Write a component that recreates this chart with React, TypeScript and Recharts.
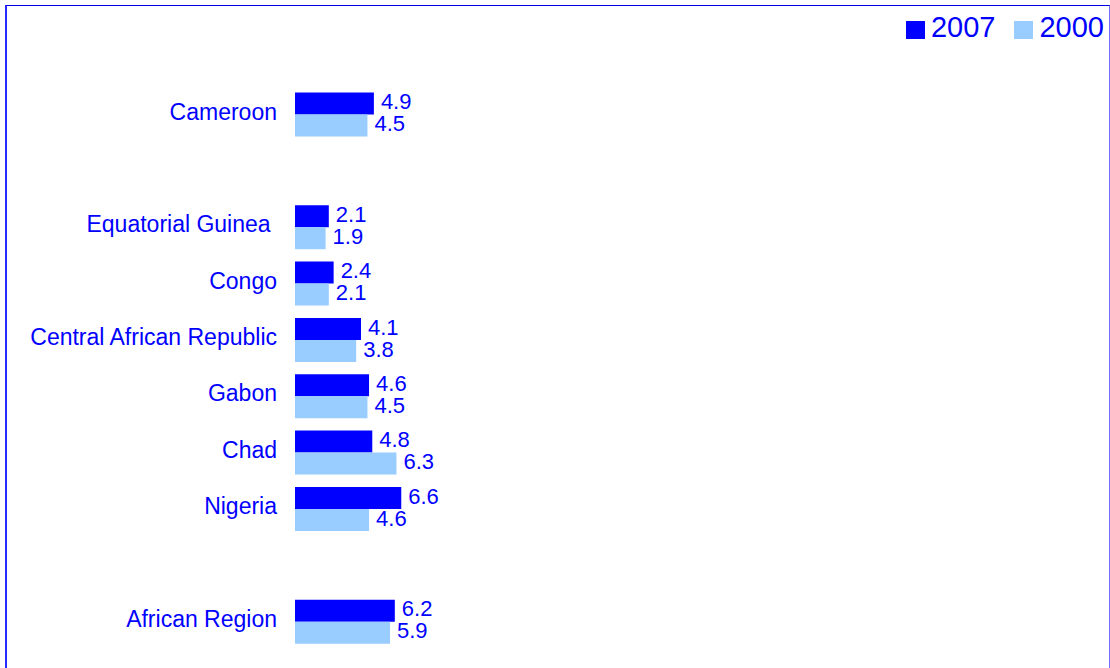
import { BarChart, Bar, XAxis, YAxis, Legend, LabelList } from "recharts";

const countries = [
  "Cameroon",
  " ",
  "Equatorial Guinea ",
  "Congo",
  "Central African Republic",
  "Gabon",
  "Chad",
  "Nigeria",
  "  ",
  "African Region",
];
const values2007 = [4.9, null, 2.1, 2.4, 4.1, 4.6, 4.8, 6.6, null, 6.2];
const values2000 = [4.5, null, 1.9, 2.1, 3.8, 4.5, 6.3, 4.6, null, 5.9];
const seriesOrder = ["2007", "2000"];

const data = countries.map((name, i) => ({
  name,
  y2007: values2007[i],
  y2000: values2000[i],
}));

const FONT = "'Liberation Sans', Arial, sans-serif";
const BLUE = "#0000ff";
const LIGHT = "#99ccff";

const fmt = (v: any) => (v == null ? "" : Number(v).toFixed(1));

const CountryTick = ({ x, y, payload }: any) => (
  <text
    x={x}
    y={y}
    dy={5}
    textAnchor="end"
    fill={BLUE}
    fontSize={23}
    fontFamily={FONT}
    style={{ whiteSpace: "pre" }}
  >
    {payload.value}
  </text>
);

const LegendBox = ({ payload }: any) => {
  const items = [...(payload || [])].sort(
    (a: any, b: any) => seriesOrder.indexOf(a.value) - seriesOrder.indexOf(b.value)
  );
  return (
    <div style={{ display: "flex", alignItems: "center", fontFamily: FONT }}>
      {items.map((p: any, i: number) => (
        <div
          key={p.value}
          style={{ display: "flex", alignItems: "center", marginLeft: i ? 19 : 0 }}
        >
          <span
            style={{ width: 19, height: 18, background: p.color, marginRight: 6 }}
          />
          <span
            style={{
              fontSize: 29,
              lineHeight: "29px",
              color: BLUE,
              position: "relative",
              top: -2,
            }}
          >
            {p.value}
          </span>
        </div>
      ))}
    </div>
  );
};

export default function App() {
  return (
    <div
      style={{
        position: "absolute",
        left: 0,
        top: 0,
        width: 1110,
        height: 668,
        overflow: "hidden",
        background: "#fff",
      }}
    >
      <div
        style={{
          position: "absolute",
          left: 5,
          top: 5,
          width: 1105,
          height: 720,
          boxSizing: "border-box",
          borderLeft: "2px solid #2a2aff",
          borderTop: "1px solid #0000e0",
          borderRight: "1px solid #7070ff",
        }}
      />
      <div style={{ position: "absolute", left: 0, top: 0 }}>
        <BarChart
          width={1110}
          height={668}
          data={data}
          layout="vertical"
          margin={{ top: 86.5, right: 10, bottom: 18, left: 0 }}
          barGap={0}
        >
          <XAxis type="number" domain={[0, 50]} hide />
          <YAxis
            type="category"
            dataKey="name"
            width={295}
            axisLine={false}
            tickLine={false}
            tickSize={0}
            tickMargin={18}
            interval={0}
            tick={<CountryTick />}
          />
          <Legend
            verticalAlign="middle"
            align="center"
            wrapperStyle={{ top: 15, right: 6, left: "auto", width: "auto" }}
            content={<LegendBox />}
          />
          <Bar
            dataKey="y2007"
            name="2007"
            fill={BLUE}
            barSize={22}
            isAnimationActive={false}
          >
            <LabelList
              dataKey="y2007"
              position="right"
              offset={7}
              dy={-2}
              fill={BLUE}
              fontSize={22}
              fontFamily={FONT}
              formatter={fmt}
            />
          </Bar>
          <Bar
            dataKey="y2000"
            name="2000"
            fill={LIGHT}
            barSize={22}
            isAnimationActive={false}
          >
            <LabelList
              dataKey="y2000"
              position="right"
              offset={7}
              dy={-2}
              fill={BLUE}
              fontSize={22}
              fontFamily={FONT}
              formatter={fmt}
            />
          </Bar>
        </BarChart>
      </div>
    </div>
  );
}
